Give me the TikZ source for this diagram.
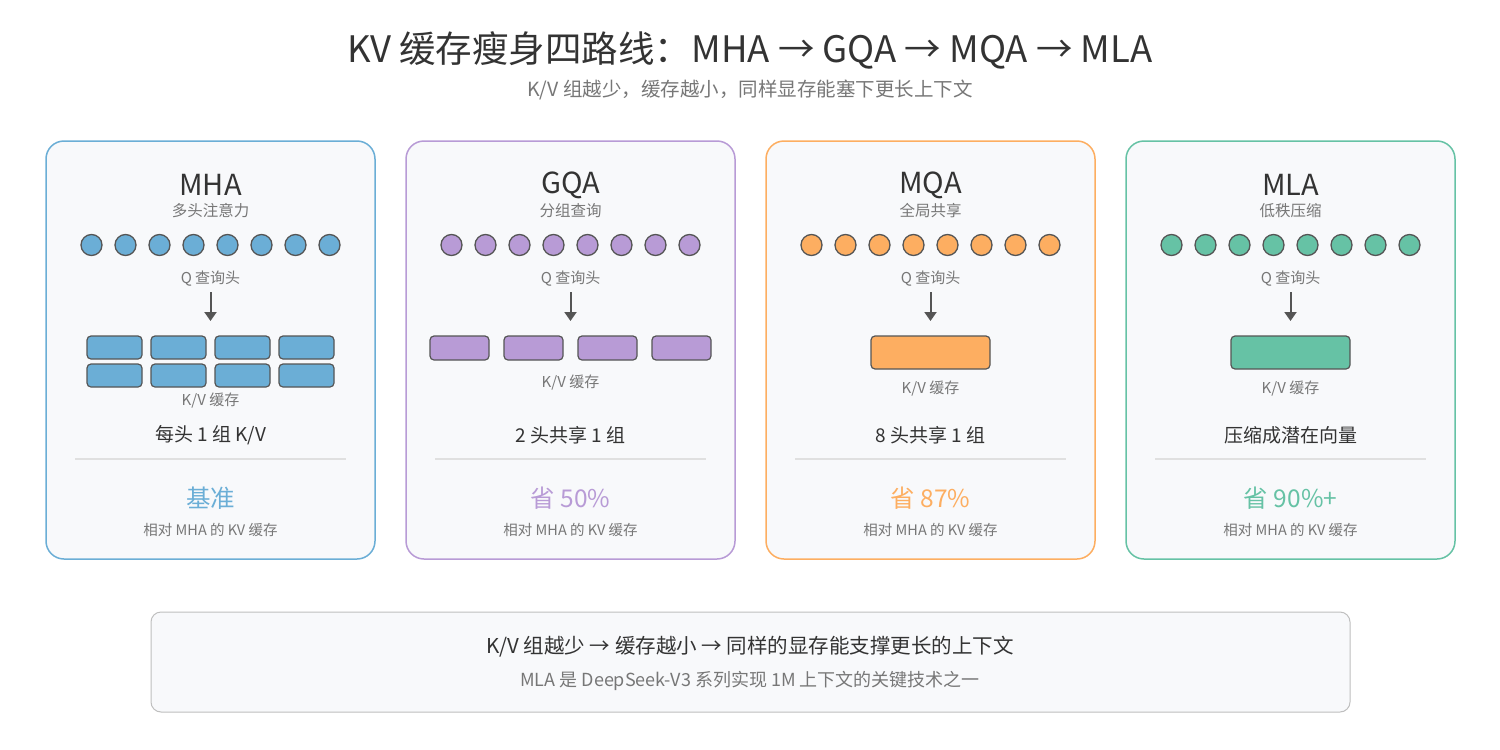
\documentclass[tikz,border=0pt]{standalone}
\usepackage{fontspec}
\setmainfont{Noto Sans CJK SC}
\usetikzlibrary{arrows.meta}
\definecolor{cblue}{HTML}{6BAED6}
\definecolor{cpurple}{HTML}{B89BD6}
\definecolor{corange}{HTML}{FDAE61}
\definecolor{cgreen}{HTML}{66C2A5}
\definecolor{cardbg}{HTML}{F8F9FB}
\definecolor{dark}{HTML}{333333}
\definecolor{mid}{HTML}{777777}
\definecolor{edge}{HTML}{555555}
\begin{document}
\begin{tikzpicture}[x=1pt,y=-1pt,
  card/.style={draw=#1,line width=1.5pt,fill=cardbg,rounded corners=18pt},
  head/.style={circle,draw=edge,line width=1.3pt,fill=#1,minimum size=21pt,inner sep=0pt},
  kv/.style={draw=edge,line width=1.2pt,fill=#1,rounded corners=4pt},
  t/.style={font=\fontsize{#1}{#1}\selectfont,inner sep=0pt,text=dark},
  g/.style={font=\fontsize{#1}{#1}\selectfont,inner sep=0pt,text=mid},
  arr/.style={draw=edge,line width=2pt,-{Triangle[length=9pt,width=12pt]}}]
\useasboundingbox (0,0) rectangle (1500,750);
\fill[white] (0,0) rectangle (1500,750);
\node[t=36.5] (title) at (750,50) {KV 缓存瘦身四路线：MHA → GQA → MQA → MLA};
\node[g=19.5] (sub) at (750,90) {K/V 组越少，缓存越小，同样显存能塞下更长上下文};
\foreach \i/\c/\nm/\sb/\desc/\sav [count=\k] in {
  0/cblue/MHA/多头注意力/{每头 1 组 K/V}/基准,
  1/cpurple/GQA/分组查询/2 头共享 1 组/省 50\%,
  2/corange/MQA/全局共享/8 头共享 1 组/省 87\%,
  3/cgreen/MLA/低秩压缩/压缩成潜在向量/省 90\%+}{
  \pgfmathsetmacro{\cx}{210.5+360*\i}
  \draw[card=\c] (\cx-164.5,141) rectangle (\cx+164.5,559);
  \node[t=29] (name\k) at (\cx,185) {\nm};
  \node[g=15.5] (sb\k) at (\cx,211) {\sb};
  \foreach \j in {0,...,7}{
    \node[head=\c] (h\k\j) at (\cx-119+34*\j,245) {};}
  \node[g=15] (q\k) at (\cx,279) {Q 查询头};
  \coordinate (a\k) at (\cx,292);
  \coordinate (b\k) at (\cx,321);
  \draw[arr] (a\k) -- (b\k);
  \node[t=19] (d\k) at (\cx,435) {\desc};
  \draw[draw=black!12,line width=1.2pt] (\cx-135.5,459) -- (\cx+135.5,459);
  \node[font=\fontsize{24.5}{24.5}\selectfont,inner sep=0pt,text=\c] (s\k) at (\cx,498) {\sav};
  \node[g=14.5] (r\k) at (\cx,530) {相对 MHA 的 KV 缓存};
}
% MHA
\foreach \j in {0,...,3}{
  \draw[kv=cblue] (87+64*\j,336) rectangle (142+64*\j,359);
  \draw[kv=cblue] (87+64*\j,364) rectangle (142+64*\j,387);}
\node[g=15] (kv1) at (210.5,401) {K/V 缓存};
% GQA
\foreach \j in {0,...,3}{
  \draw[kv=cpurple] (430+74*\j,336) rectangle (489+74*\j,360);}
\node[g=15] (kv2) at (570.5,383) {K/V 缓存};
% MQA
\draw[kv=corange] (871,336) rectangle (990,369);
\node[g=15] (kv3) at (930.5,389) {K/V 缓存};
% MLA
\draw[kv=cgreen] (1231,336) rectangle (1350,369);
\node[g=15] (kv4) at (1290.5,389) {K/V 缓存};
% bottom
\draw[draw=black!25,line width=1pt,fill=cardbg,rounded corners=10pt] (151,612) rectangle (1350,712);
\node[t=20.5] (b1) at (750,647) {K/V 组越少 → 缓存越小 → 同样的显存能支撑更长的上下文};
\node[g=18] (b2) at (750,681) {MLA 是 DeepSeek-V3 系列实现 1M 上下文的关键技术之一};
\end{tikzpicture}
\end{document}
